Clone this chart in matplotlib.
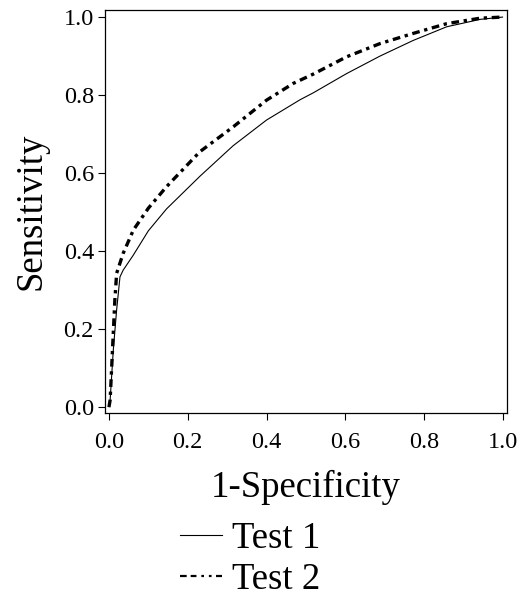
import matplotlib
matplotlib.use("Agg")
import matplotlib.pyplot as plt
from matplotlib.lines import Line2D

plt.rcParams['font.family'] = ['Liberation Serif', 'DejaVu Serif']

# ROC curve points
test1_fpr = [0.0, 0.003, 0.011, 0.0195, 0.028, 0.036, 0.062, 0.1, 0.146, 0.231, 0.315, 0.4,
             0.485, 0.519, 0.603, 0.688, 0.772, 0.857, 0.942, 1.0]
test1_tpr = [0.0, 0.018, 0.146, 0.249, 0.334, 0.351, 0.390, 0.452, 0.508, 0.592, 0.670, 0.736,
             0.788, 0.806, 0.855, 0.90, 0.94, 0.975, 0.994, 1.0]

test2_fpr = [0.0, 0.003, 0.007, 0.011, 0.015, 0.0195, 0.036, 0.062, 0.1, 0.146, 0.231, 0.316,
             0.4, 0.468, 0.519, 0.603, 0.688, 0.772, 0.857, 0.942, 1.0]
test2_tpr = [0.0, 0.018, 0.103, 0.19, 0.274, 0.343, 0.394, 0.454, 0.51, 0.565, 0.655, 0.719,
             0.787, 0.83, 0.854, 0.898, 0.932, 0.958, 0.983, 0.997, 1.0]

labels = ["Test 1", "Test 2"]
ticks = [0.0, 0.2, 0.4, 0.6, 0.8, 1.0]
tick_labels = ["0.0", "0.2", "0.4", "0.6", "0.8", "1.0"]

fig = plt.figure(figsize=(5.23, 5.96), dpi=100)
ax = fig.add_axes([105/523, 1 - 413/596, (507-105)/523, (413-10)/596])

ax.plot(test1_fpr, test1_tpr, color='black', lw=0.8, solid_capstyle='butt')
ax.plot(test2_fpr, test2_tpr, color='black', lw=2.4, dashes=(2.3, 1.4, 1.0, 1.4),
        dash_capstyle='butt')

ax.set_xlim(-0.01, 1.01)
ax.set_ylim(-0.015, 1.018)
ax.set_xticks(ticks)
ax.set_xticklabels(tick_labels)
ax.set_yticks(ticks)
ax.set_yticklabels(tick_labels)
ax.tick_params(direction='out', length=5, width=0.8, labelsize=17.5)
ax.tick_params(axis='x', pad=9)
ax.tick_params(axis='y', pad=3)
for s in ax.spines.values():
    s.set_linewidth(0.9)

ax.set_xlabel("1-Specificity", fontsize=26.5, labelpad=12)
ax.set_ylabel("Sensitivity", fontsize=26.5, labelpad=11)

handles = [Line2D([], [], color='black', lw=0.8),
           Line2D([], [], color='black', lw=1.6,
                  dashes=(3.0, 1.8, 2.6, 2.2, 1.2, 2.2, 1.2, 2))]
fig.legend(handles, labels, loc='upper left', bbox_to_anchor=(180/523, 1 - 521/596),
           frameon=False, fontsize=26.5, handlelength=1.15, handletextpad=0.25,
           labelspacing=0.2, borderpad=0, borderaxespad=0)

fig.savefig("out.png", dpi=100, facecolor='white')
